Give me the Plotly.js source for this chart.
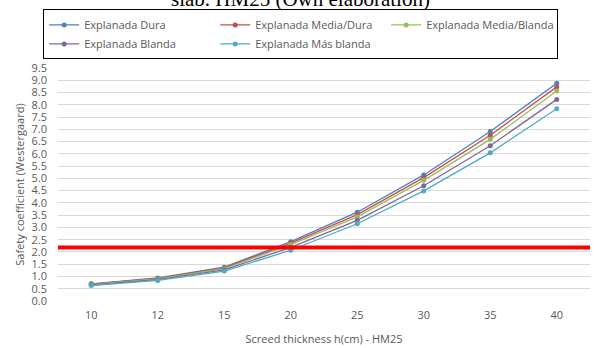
<!DOCTYPE html>
<html><head><meta charset="utf-8">
<script src="https://cdn.plot.ly/plotly-3.0.1.min.js"></script>
<style>html,body{margin:0;padding:0;background:#fff;}#chart{width:600px;height:348px;}</style>
</head><body><div id="chart"></div>
<script>
const thickness = ['10', '12', '15', '20', '25', '30', '35', '40'];
const seriesNames = ['Explanada Dura', 'Explanada Media/Dura', 'Explanada Media/Blanda', 'Explanada Blanda', 'Explanada Más blanda'];
const dura        = [0.70, 0.94, 1.38, 2.42, 3.62, 5.14, 6.91, 8.88];
const mediaDura   = [0.69, 0.92, 1.35, 2.36, 3.52, 5.03, 6.76, 8.73];
const mediaBlanda = [0.68, 0.90, 1.32, 2.30, 3.43, 4.92, 6.59, 8.56];
const blanda      = [0.66, 0.87, 1.27, 2.19, 3.29, 4.70, 6.33, 8.22];
const masBlanda   = [0.63, 0.84, 1.22, 2.07, 3.15, 4.49, 6.04, 7.84];
const threshold = 2.18;
const titleText = 'slab. HM25 (Own elaboration)';

const colors = ['#4F81BD', '#C0504D', '#9BBB59', '#8064A2', '#4BACC6'];
const allSeries = [dura, mediaDura, mediaBlanda, blanda, masBlanda];
const font = 'Open Sans, sans-serif';
const gray = '#595959';

const traces = allSeries.map((vals, i) => ({
  type: 'scatter', mode: 'lines+markers',
  x: thickness, y: vals, name: seriesNames[i],
  line: {color: colors[i], width: 1.3},
  marker: {color: colors[i], size: 5}
}));

const layout = {
  width: 600, height: 348,
  margin: {l: 58, r: 10, t: 67.7, b: 47.3},
  paper_bgcolor: '#fff', plot_bgcolor: '#fff',
  font: {family: font, size: 11, color: gray},
  showlegend: true,
  legend: {
    orientation: 'h', xref: 'container', yref: 'container',
    x: 0.072, y: 0.973, xanchor: 'left', yanchor: 'top',
    bordercolor: '#000', borderwidth: 1,
    entrywidth: 126, entrywidthmode: 'pixels',
    font: {family: font, size: 11, color: gray},
    traceorder: 'normal'
  },
  xaxis: {
    type: 'category', range: [-0.5, 7.5],
    showgrid: false, zeroline: false, showline: false,
    ticks: '', ticklabelstandoff: 6,
    tickfont: {family: font, size: 11, color: gray},
    title: {text: 'Screed thickness h(cm) - HM25', font: {family: font, size: 11, color: gray}, standoff: 14}
  },
  yaxis: {
    range: [0, 9.5], dtick: 0.5, tick0: 0, tickformat: '.1f',
    showgrid: true, gridcolor: '#d9d9d9', gridwidth: 1,
    zeroline: false, showline: false, ticks: '',
    ticklabelstandoff: 10,
    tickfont: {family: font, size: 11, color: gray},
    title: {text: 'Safety coefficient (Westergaard)', font: {family: font, size: 11, color: gray}, standoff: 4}
  },
  shapes: [{
    type: 'line', xref: 'paper', x0: 0, x1: 1, yref: 'y', y0: threshold, y1: threshold,
    line: {color: '#FF0000', width: 4}
  }],
  annotations: [{
    text: titleText, xref: 'paper', yref: 'paper', x: 0.455, y: 1.297, yanchor: 'middle',
    showarrow: false, font: {family: 'Liberation Serif, serif', size: 21, color: '#000'}
  }]
};

Plotly.newPlot('chart', traces, layout, {displayModeBar: false, staticPlot: true});
</script></body></html>
